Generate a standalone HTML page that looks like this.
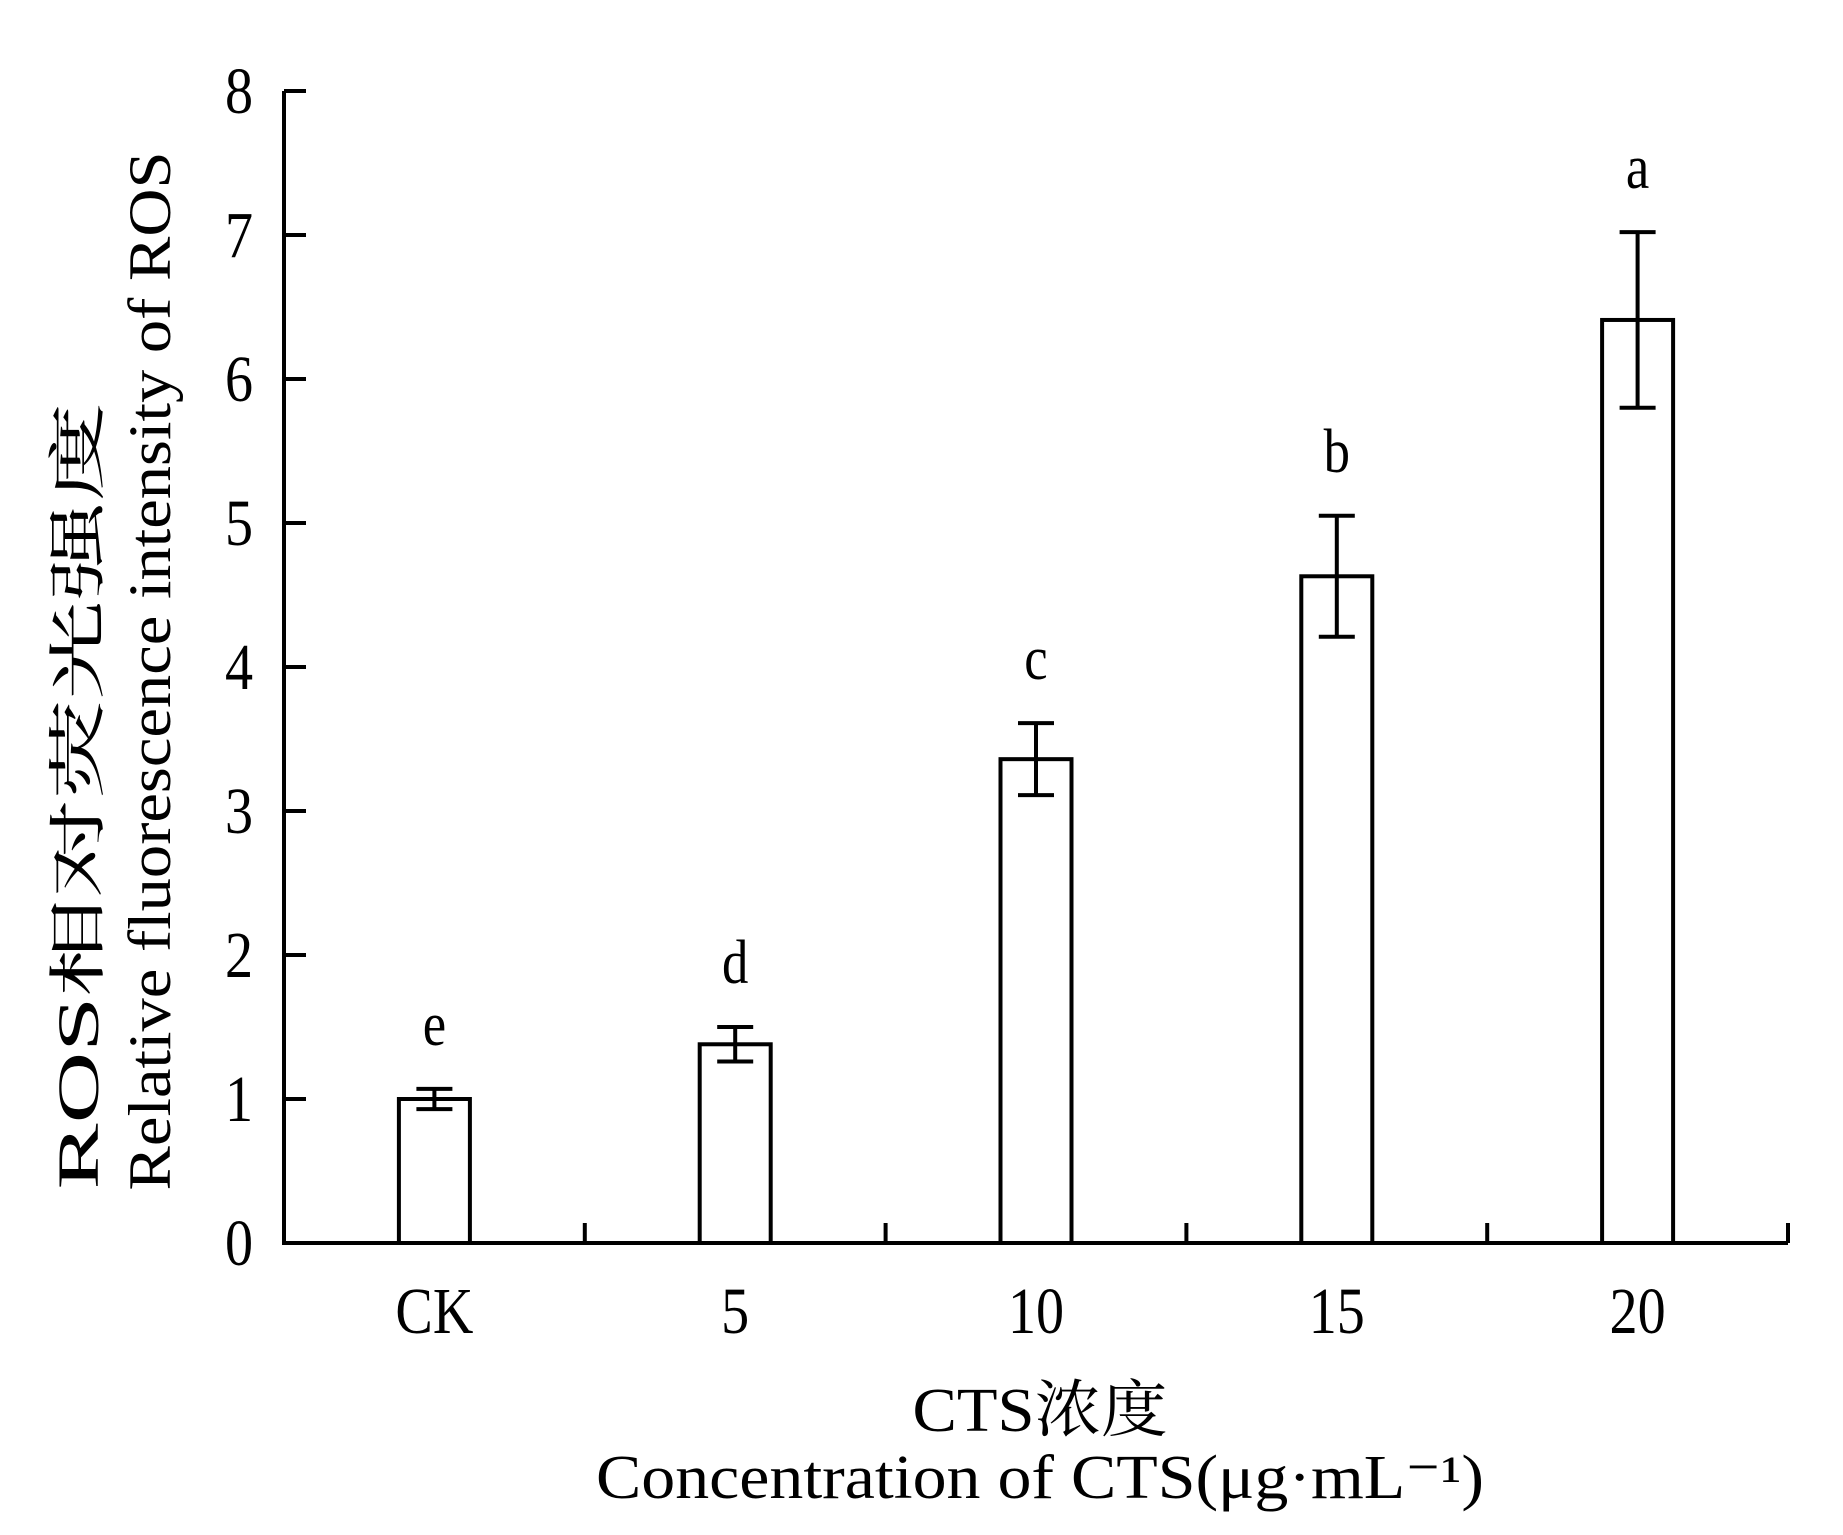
<!DOCTYPE html>
<html><head><meta charset="utf-8"><style>
html,body{margin:0;padding:0;background:#fff;}
svg{display:block;}
text{font-family:"Liberation Serif","Noto Serif CJK SC","Noto Sans CJK SC",serif;fill:#000;}
</style></head><body>
<svg id="chart" width="1843" height="1535" viewBox="0 0 1843 1535" xmlns="http://www.w3.org/2000/svg">
<g id="axes"></g>
<g id="bars"></g>
<text transform="translate(98,796) rotate(-90)" text-anchor="middle" font-size="58" textLength="787" lengthAdjust="spacingAndGlyphs">ROS相对荧光强度</text>
<text transform="translate(170,671) rotate(-90)" text-anchor="middle" font-size="60" textLength="1039" lengthAdjust="spacingAndGlyphs">Relative fluorescence intensity of ROS</text>
<text x="1040" y="1431" text-anchor="middle" font-size="62" textLength="255" lengthAdjust="spacingAndGlyphs">CTS浓度</text>
<text x="1040" y="1498" text-anchor="middle" font-size="62" textLength="888" lengthAdjust="spacingAndGlyphs">Concentration of CTS(μg·mL⁻¹)</text>
</svg>
<script>
const categories = ["CK","5","10","15","20"];
const values = [1.0, 1.38, 3.36, 4.63, 6.41];
const errors = [0.07, 0.12, 0.25, 0.42, 0.61];
const letters = ["e","d","c","b","a"];
const yTicks = [0,1,2,3,4,5,6,7,8];

const NS="http://www.w3.org/2000/svg";
const x0=284, x1=1788, yBase=1243, yTop=91, yMax=8;
const band=(x1-x0)/categories.length;
const yS=v=>yBase-(yBase-yTop)*v/yMax;
const xC=i=>x0+band*(i+0.5);
const SX=0.85;
function mk(tag,attrs,parent){const e=document.createElementNS(NS,tag);for(const k in attrs)e.setAttribute(k,attrs[k]);parent.appendChild(e);return e;}
const axes=document.getElementById('axes'), bars=document.getElementById('bars');
const sw=4;
let yl=mk('line',{x1:x0,y1:yTop,x2:x0,y2:yBase,stroke:'#000','stroke-width':sw},axes);


let xl=mk('line',{x1:x0-2,y1:yBase,x2:x1,y2:yBase,stroke:'#000','stroke-width':sw},axes);


yTicks.forEach(t=>{
  const y=yS(t);
  const tk=mk('line',{x1:x0,y1:y,x2:x0+22,y2:y,stroke:'#000','stroke-width':sw},axes);
  
  
  const lb=mk('text',{x:253/SX,y:y+22,'text-anchor':'end','font-size':66,transform:`scale(${SX},1)`},axes);
  lb.textContent=t;
  
  
});
for(let i=1;i<=categories.length;i++){
  const x=x0+band*i;
  const tk=mk('line',{x1:x,y1:yBase,x2:x,y2:yBase-20,stroke:'#000','stroke-width':sw},axes);
  
  
}
categories.forEach((c,i)=>{
  const cx=xC(i), bw=71;
  const lb=mk('text',{x:cx/SX,y:1333,'text-anchor':'middle','font-size':66,transform:`scale(${SX},1)`},axes);
  lb.textContent=c;
  
  
  const r=mk('rect',{x:cx-bw/2,y:yS(values[i]),width:bw,height:yBase-yS(values[i]),fill:'#fff',stroke:'#000','stroke-width':sw},bars);
  
  
  const hi=yS(values[i]+errors[i]), lo=yS(values[i]-errors[i]);
  const eb=mk('path',{d:`M${cx},${hi}V${lo}M${cx-18},${hi}H${cx+18}M${cx-18},${lo}H${cx+18}`,stroke:'#000','stroke-width':sw,fill:'none'},bars);
  
  
  const lt=mk('text',{x:cx/SX,y:hi-44,'text-anchor':'middle','font-size':62,transform:`scale(${SX},1)`},bars);
  lt.textContent=letters[i];
  
  
});
</script>
</body></html>
